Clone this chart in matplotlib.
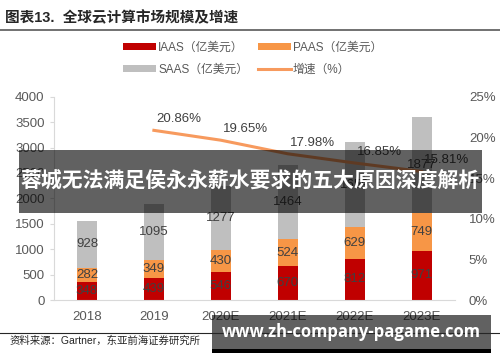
import numpy as np
import matplotlib.pyplot as plt
from matplotlib.patches import Rectangle

plt.rcParams['font.family'] = ['Liberation Sans', 'Noto Sans CJK SC', 'DejaVu Sans']

# data
years = ['2018', '2019', '2020E', '2021E', '2022E', '2023E']
iaas = [348, 439, 546, 670, 812, 971]
paas = [282, 349, 430, 524, 629, 749]
saas = [928, 1095, 1277, 1464, 1659, 1877]
growth_years = ['2019', '2020E', '2021E', '2022E', '2023E']
growth = [20.86, 19.65, 17.98, 16.85, 15.81]

c_iaas = '#C00000'
c_paas = '#F79646'
c_saas = '#BFBFBF'
c_line = '#F79A5E'
c_txt = '#404040'

fig = plt.figure(figsize=(5, 3.62), dpi=100)
ax = fig.add_axes([0.107, 0.171, 0.803, 0.562])
x = np.arange(len(years))
w = 0.3
iaas = np.array(iaas)
paas = np.array(paas)
saas = np.array(saas)
b1 = ax.bar(x, iaas, w, color=c_iaas)
b2 = ax.bar(x, paas, w, bottom=iaas, color=c_paas)
b3 = ax.bar(x, saas, w, bottom=iaas + paas, color=c_saas)
for vals, bot in [(iaas, np.zeros(6)), (paas, iaas), (saas, iaas + paas)]:
    for i, v in enumerate(vals):
        ax.text(x[i], bot[i] + v / 2, str(v), ha='center', va='center', fontsize=9.5, color=c_txt)

ax.set_xlim(-0.5, 5.5)
ax.set_ylim(0, 4000)
ax.set_yticks(range(0, 4001, 500))
ax.set_xticks(x)
ax.set_xticklabels(years)
for s in ['top', 'right']:
    ax.spines[s].set_visible(False)
ax.spines['left'].set_color('#D9D9D9')
ax.spines['bottom'].set_color('#D9D9D9')
ax.tick_params(axis='y', colors='#D9D9D9', labelcolor='#595959', labelsize=9.5, length=3)
ax.tick_params(axis='x', length=0, labelcolor='#595959', labelsize=9.5, pad=8)

ax2 = ax.twinx()
gx = [years.index(g) for g in growth_years]
ln, = ax2.plot(gx, growth, color=c_line, lw=2.2)
ax2.set_ylim(0, 25)
ax2.set_yticks(range(0, 26, 5))
ax2.set_yticklabels([f'{v}%' for v in range(0, 26, 5)])
for s in ax2.spines.values():
    s.set_visible(False)
ax2.tick_params(axis='y', length=0, labelcolor='#595959', labelsize=9.5, pad=10)
for xi, g in zip(gx, growth):
    ax2.annotate(f'{g:.2f}%', (xi, g), xytext=(18, 8), textcoords='offset points',
                 ha='center', va='center', fontsize=9.5, color=c_txt)

leg = fig.legend([b1, b3, b2, ln], ['IAAS（亿美元）', 'SAAS（亿美元）', 'PAAS（亿美元）', '增速（%）'],
                 ncol=2, loc='center', bbox_to_anchor=(0.505, 0.838), frameon=False,
                 fontsize=8.5, handlelength=2.8, handleheight=0.5, columnspacing=0.8,
                 handletextpad=0.2, labelspacing=0.8)
for t in leg.get_texts():
    t.set_color('#595959')

# header / footer
fig.text(0.01, 0.952, '图表13.  全球云计算市场规模及增速', fontsize=10.5, fontweight='bold',
         color='#262626', va='center')
fig.add_artist(plt.Line2D([0, 1], [0.918, 0.918], color='#595959', lw=1.2))
fig.add_artist(plt.Line2D([0, 1], [0.08, 0.08], color='#262626', lw=0.8))
fig.text(0.02, 0.058, '资料来源：Gartner，东亚前海证券研究所', fontsize=7.5, color='#262626', va='center')

# overlay banners
fig.add_artist(Rectangle((0.038, 0.412), 0.926, 0.174, transform=fig.transFigure,
                         color='black', alpha=0.62, lw=0))
fig.text(0.5, 0.5, '蓉城无法满足侯永永薪水要求的五大原因深度解析', fontsize=15, fontweight='bold',
         color='white', ha='center', va='center', family=['Noto Sans CJK SC'])
fig.add_artist(Rectangle((0.424, 0.036), 0.558, 0.094, transform=fig.transFigure,
                         color='black', alpha=0.62, lw=0))
fig.add_artist(Rectangle((0.424, 0.025), 0.558, 0.011, transform=fig.transFigure,
                         color='black', lw=0))
fig.text(0.703, 0.083, 'www.zh-company-pagame.com', fontsize=12, fontweight='bold',
         color='white', ha='center', va='center', family=['Open Sans', 'DejaVu Sans'])

fig.savefig('out.png', dpi=100)
